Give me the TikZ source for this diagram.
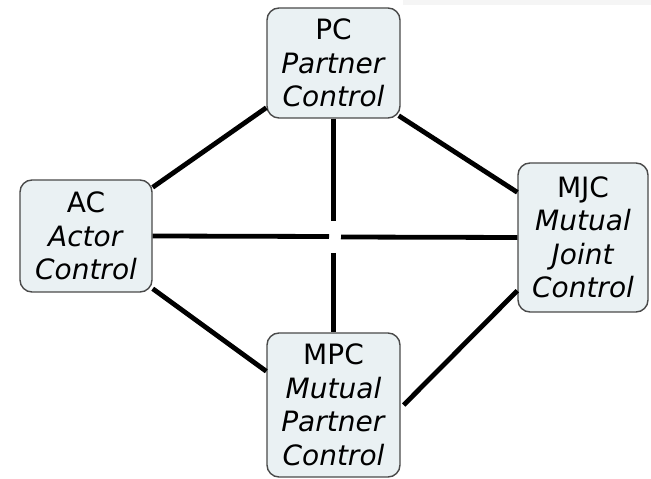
\documentclass[tikz,border=0pt]{standalone}
\usepackage{fontspec}
\setmainfont{DejaVu Sans}
\definecolor{boxfill}{HTML}{EAF1F3}
\definecolor{boxline}{HTML}{4A4A4A}
\begin{document}
\begin{tikzpicture}[x=1pt,y=1pt,
  ctrlbox/.style={draw=boxline, line width=1.4pt, fill=boxfill, rounded corners=12pt,
    inner sep=0pt, align=center, font=\fontsize{28}{33.5}\selectfont},
  link/.style={line width=4.8pt, black}]
\useasboundingbox (0,0) rectangle (651,479);
\fill[gray!8] (403,474) rectangle (651,479);
% nodes
\node[ctrlbox, minimum width=133pt, minimum height=110pt] (pc) at (333.5,416)
  {PC\\\textit{Partner}\\\textit{Control}};
\node[ctrlbox, minimum width=132pt, minimum height=112pt] (ac) at (86,243)
  {AC\\\textit{Actor}\\\textit{Control}};
\node[ctrlbox, minimum width=130pt, minimum height=149pt] (mjc) at (583,241.5)
  {MJC\\\textit{Mutual}\\\textit{Joint}\\\textit{Control}};
\node[ctrlbox, minimum width=133pt, minimum height=144pt] (mpc) at (333.5,74)
  {MPC\\\textit{Mutual}\\\textit{Partner}\\\textit{Control}};
% crossing gap ends
\coordinate (vt) at (333.5,258);
\coordinate (vb) at (333.5,226);
\coordinate (hl) at (329,242.5);
\coordinate (hr) at (341,242);
% connectors
\draw[link] ([yshift=11pt]pc.south west) -- ([yshift=-8pt]ac.north east);
\draw[link] ([xshift=-2pt,yshift=3pt]pc.south east) -- ([yshift=-30pt]mjc.north west);
\draw[link] ([yshift=4pt]ac.south east) -- ([yshift=-39pt]mpc.north west);
\draw[link] ([xshift=3pt]mpc.east) -- ([yshift=22pt]mjc.south west);
\draw[link] (pc.south) -- (vt);
\draw[link] (vb) -- (mpc.north);
\draw[link] (ac.east) -- (hl);
\draw[link] (hr) -- (mjc.west);
\end{tikzpicture}
\end{document}
